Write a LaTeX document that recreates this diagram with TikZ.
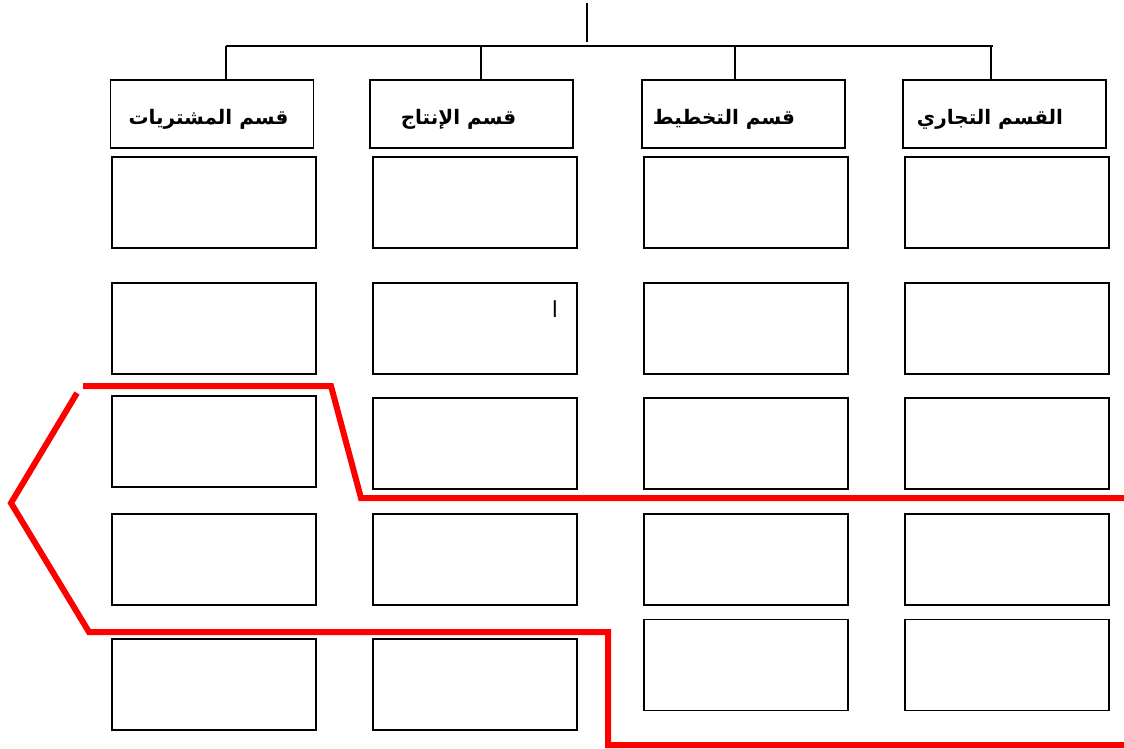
\documentclass[tikz,border=0pt]{standalone}
\usepackage{fontspec}
\newfontfamily\arabicfont[Script=Arabic]{DejaVu Sans}
\TeXXeTstate=1
\begin{document}
\begin{tikzpicture}[x=1pt,y=-1pt,
  cell/.style={draw=black,line width=1.8pt,minimum width=204pt,minimum height=91pt,inner sep=0pt,outer sep=0pt},
  head/.style={draw=black,line width=1.8pt,minimum width=203pt,minimum height=68pt,inner sep=0pt,outer sep=0pt},
  htext/.style={anchor=base,inner sep=0pt,font=\arabicfont\bfseries\fontsize{20}{24}\selectfont},
  conn/.style={draw=black,line width=1.5pt},
  redline/.style={draw=red,line width=6pt}]
\useasboundingbox[fill=white] (0,0) rectangle (1124,748);
% headers
\node[head] (h1) at (212,114) {};
\node[head] (h2) at (471.5,114) {};
\node[head] (h3) at (743.5,114) {};
\node[head] (h4) at (1004.5,114) {};
\node[htext] (t1) at (208.5,124) {\beginR قسم المشتريات\endR};
\node[htext] (t2) at (458.5,124) {\beginR قسم الإنتاج\endR};
\node[htext] (t3) at (724,124) {\beginR قسم التخطيط\endR};
\node[htext] (t4) at (990,124) {\beginR القسم التجاري\endR};
% connectors
\coordinate (top0) at (587,3);
\coordinate (top1) at (587,42);
\coordinate (busL) at (226,46);
\coordinate (busR) at (993,46);
\coordinate (b1) at (226,46);
\coordinate (b2) at (481,46);
\coordinate (b3) at (735,46);
\coordinate (b4) at (991,46);
\draw[conn] (top0) -- (top1);
\draw[conn] (busL) -- (busR);
\draw[conn] (b1) -- (b1 |- h1.north);
\draw[conn] (b2) -- (b2 |- h2.north);
\draw[conn] (b3) -- (b3 |- h3.north);
\draw[conn] (b4) -- (b4 |- h4.north);
% column 1
\node[cell] (a1) at (214,202.5) {};
\node[cell] (a2) at (214,328.5) {};
\node[cell] (a3) at (214,441.5) {};
\node[cell] (a4) at (214,559.5) {};
\node[cell] (a5) at (214,684.5) {};
% column 2
\node[cell] (c1) at (475,202.5) {};
\node[cell] (c2) at (475,328.5) {};
\node[cell] (c3) at (475,443.5) {};
\node[cell] (c4) at (475,559.5) {};
\node[cell] (c5) at (475,684.5) {};
% column 3
\node[cell] (d1) at (746,202.5) {};
\node[cell] (d2) at (746,328.5) {};
\node[cell] (d3) at (746,443.5) {};
\node[cell] (d4) at (746,559.5) {};
\node[cell] (d5) at (746,665) {};
% column 4
\node[cell] (e1) at (1007,202.5) {};
\node[cell] (e2) at (1007,328.5) {};
\node[cell] (e3) at (1007,443.5) {};
\node[cell] (e4) at (1007,559.5) {};
\node[cell] (e5) at (1007,665) {};
% small letter
\node[anchor=base,inner sep=0pt,font=\arabicfont\fontsize{22}{26}\selectfont] (alef) at (555,317) {\beginR ا\endR};
% red lines
\draw[redline] (83,386) -- (331,386) -- (361,498) -- (1124,498);
\draw[redline] (77,393) -- (11,503) -- (89,632) -- (608,632) -- (608,745) -- (1124,745);
\end{tikzpicture}
\end{document}
